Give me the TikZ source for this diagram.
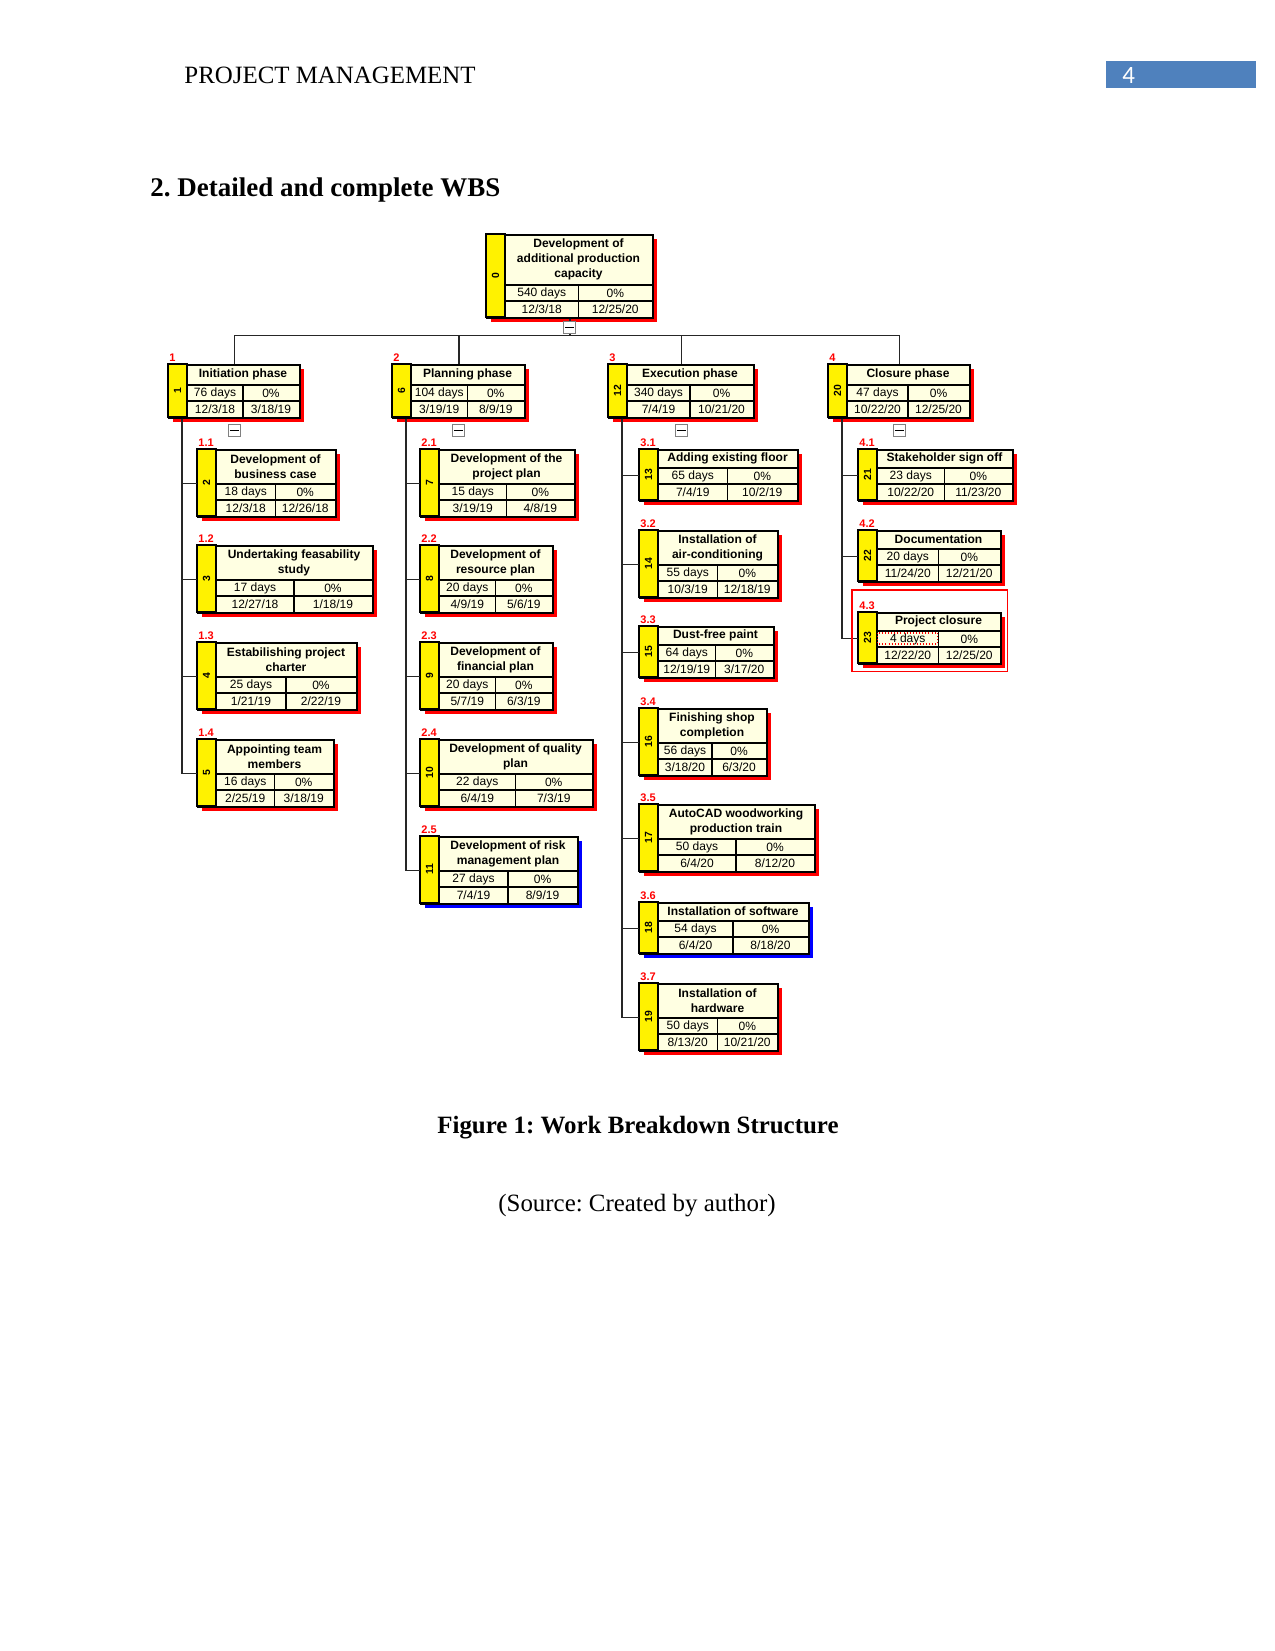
\documentclass[tikz,border=0pt]{standalone}
\usepackage{fontspec}
\setmainfont{Liberation Serif}
\newfontfamily\wbsfont{Liberation Sans}
\newfontfamily\pagefont{Carlito}
\usetikzlibrary{positioning, calc}
\definecolor{cream}{RGB}{255,255,226}
\definecolor{hdrblue}{RGB}{79,129,189}
\frenchspacing

\begin{document}
\begin{tikzpicture}[x=0.0169333cm, y=-0.0169333cm,
    taskbox/.style={draw=black, line width=0.8pt, fill=cream, inner sep=0pt, anchor=north west},
    idstrip/.style={draw=black, line width=0.8pt, fill=yellow},
    grid/.style={draw=black, line width=0.7pt},
    ttl/.style={font=\wbsfont\bfseries\fontsize{5.8}{7.2}\selectfont, align=center, inner sep=0pt},
    cell/.style={font=\wbsfont\fontsize{5.8}{7}\selectfont, inner sep=0pt},
    idnum/.style={font=\wbsfont\bfseries\fontsize{5}{6}\selectfont, rotate=90, inner sep=0pt},
    wbsno/.style={font=\wbsfont\bfseries\fontsize{5.3}{6}\selectfont, text=red, inner sep=0pt, anchor=south west},
    pagetext/.style={anchor=base west, inner sep=0pt},
    link/.style={draw=black!85, line width=0.8pt},
    minusbox/.style={draw=gray, fill=white, line width=0.5pt, minimum size=0.2cm, inner sep=0pt,
        path picture={\draw[black, line width=0.6pt] ([xshift=-2.2pt]path picture bounding box.center) -- ([xshift=2.2pt]path picture bounding box.center);}}
]
    % Page
    \fill[white] (0,0) rectangle (1275,1651);
    \useasboundingbox (0,0) rectangle (1275,1651);
    % Header and heading
    \node[pagetext, font=\fontsize{12}{14}\selectfont] (runhead) at (184,83) {PROJECT MANAGEMENT};
    \fill[hdrblue] (1106,61) rectangle (1256,88);
    \node[pagetext, text=white, font=\pagefont\fontsize{12}{14}\selectfont] (pageno) at (1122,83) {4};
    \node[pagetext, font=\bfseries\fontsize{13}{16}\selectfont] (heading) at (150,196) {2. Detailed and complete WBS};
    % Task boxes
    \foreach \nm/\L/\T/\R/\Th/\id/\wbs/\ttl/\dur/\st/\fin/\sh in {
        root/486/234/652/51/0/{}/{Development of\\additional production\\capacity}/540 days/{12/3/18}/{12/25/20}/red,
        p1/168/364/299/21/1/1/Initiation phase/76 days/{12/3/18}/{3/18/19}/red,
        p2/392/364/524/21/6/2/Planning phase/104 days/{3/19/19}/{8/9/19}/red,
        p3/608/364/753/21/12/3/Execution phase/340 days/{7/4/19}/{10/21/20}/red,
        p4/828/364/969/21/20/4/Closure phase/47 days/{10/22/20}/{12/25/20}/red,
        t11/197/449/335/35/2/1.1/{Development of\\business case}/18 days/{12/3/18}/{12/26/18}/red,
        t12/197/545/372/35/3/1.2/{Undertaking feasability\\study}/17 days/{12/27/18}/{1/18/19}/red,
        t13/197/642/356/35/4/1.3/{Estabilishing project\\charter}/25 days/{1/21/19}/{2/22/19}/red,
        t14/197/739/333/35/5/1.4/{Appointing team\\members}/16 days/{2/25/19}/{3/18/19}/red,
        t21/420/449/574/35/7/2.1/{Development of the\\project plan}/15 days/{3/19/19}/{4/8/19}/red,
        t22/420/545/552/35/8/2.2/{Development of\\resource plan}/20 days/{4/9/19}/{5/6/19}/red,
        t23/420/642/552/35/9/2.3/{Development of\\financial plan}/20 days/{5/7/19}/{6/3/19}/red,
        t24/420/739/592/35/10/2.4/{Development of quality\\plan}/22 days/{6/4/19}/{7/3/19}/red,
        t25/420/836/577/35/11/2.5/{Development of risk\\management plan}/27 days/{7/4/19}/{8/9/19}/blue,
        t31/639/449/797/19/13/3.1/Adding existing floor/65 days/{7/4/19}/{10/2/19}/red,
        t32/639/530/777/35/14/3.2/{Installation of\\air-conditioning}/55 days/{10/3/19}/{12/18/19}/red,
        t33/639/626/773/19/15/3.3/Dust-free paint/64 days/{12/19/19}/{3/17/20}/red,
        t34/639/708/766/35/16/3.4/{Finishing shop\\completion}/56 days/{3/18/20}/{6/3/20}/red,
        t35/639/804/814/35/17/3.5/{AutoCAD woodworking\\production train}/50 days/{6/4/20}/{8/12/20}/red,
        t36/639/902/808/19/18/3.6/Installation of software/54 days/{6/4/20}/{8/18/20}/blue,
        t37/639/983/777/35/19/3.7/{Installation of\\hardware}/50 days/{8/13/20}/{10/21/20}/red,
        t41/858/449/1012/19/21/4.1/Stakeholder sign off/23 days/{10/22/20}/{11/23/20}/red,
        t42/858/530/1000/19/22/4.2/Documentation/20 days/{11/24/20}/{12/21/20}/red,
        t43/858/612/1000/19/23/4.3/Project closure/4 days/{12/22/20}/{12/25/20}/red}{
        \pgfmathsetmacro\B{\T+\Th+32}
        \pgfmathsetmacro\M{(\L+19+\R)/2}
        \pgfmathsetmacro\Ya{\T+\Th}
        \pgfmathsetmacro\Yb{\T+\Th+16}
        \pgfmathsetmacro\Ca{(\L+19+\M)/2}
        \pgfmathsetmacro\Cb{(\M+\R)/2}
        \pgfmathsetmacro\W{(\R-\L)*0.0169333}
        \pgfmathsetmacro\H{(\B-\T)*0.0169333}
        \fill[\sh] (\L+5,\T+5) rectangle (\R+5,\B+5);
        \node[taskbox, minimum width=\W cm, minimum height=\H cm] (\nm) at (\L,\T) {};
        \draw[idstrip] (\L,\T) rectangle (\L+19,\B);
        \node[idnum] (\nm-id) at (\L+9.5,{(\T+\B)/2}) {\id};
        \node[wbsno] (\nm-no) at (\L+1,\T-2) {\wbs};
        \node[ttl] (\nm-t) at (\M,\T+\Th/2) {\ttl};
        \draw[grid] (\L+19,\Ya) -- (\R,\Ya) (\L+19,\Yb) -- (\R,\Yb) (\M,\Ya) -- (\M,\B);
        \node[cell] (\nm-d) at (\Ca,\Ya+8) {\dur};
        \node[cell] (\nm-p) at (\Cb,\Ya+8) {0\%};
        \node[cell] (\nm-s) at (\Ca,\Yb+8) {\st};
        \node[cell] (\nm-f) at (\Cb,\Yb+8) {\fin};
    }
    % Links
    \foreach \p in {p1,p2,p3,p4}
        \draw[link] (root.south) -- ++(0,17) -| (\p.north);
    \foreach \p/\c in {p1/t11,p1/t12,p1/t13,p1/t14,p2/t21,p2/t22,p2/t23,p2/t24,p2/t25,
        p3/t31,p3/t32,p3/t33,p3/t34,p3/t35,p3/t36,p3/t37,p4/t41,p4/t42,p4/t43}
        \draw[link] (\p.south west) ++(14,0) |- (\c.west);
    % Collapse boxes
    \node[minusbox] (m0) at ($(root.south)+(0,9)$) {};
    \foreach \p in {p1,p2,p3,p4}
        \node[minusbox] (m\p) at ($(\p.south)+(0,12)$) {};
    % Selection marks
    \draw[red, line width=0.5pt] ($(t43.north west)+(-6,-22)$) rectangle ($(t43.south east)+(6,7)$);
    \draw[red, densely dotted, line width=0.5pt] ($(t43-d.center)+(-30,-6)$) rectangle ($(t43-d.center)+(30,5)$);
    % Caption
    \node[anchor=base, inner sep=0pt, font=\bfseries\fontsize{12}{14}\selectfont] (caption) at (638,1133) {Figure 1: Work Breakdown Structure};
    \node[anchor=base, inner sep=0pt, font=\fontsize{12}{14}\selectfont] (source) at (637,1211) {(Source: Created by author)};
\end{tikzpicture}
\end{document}
